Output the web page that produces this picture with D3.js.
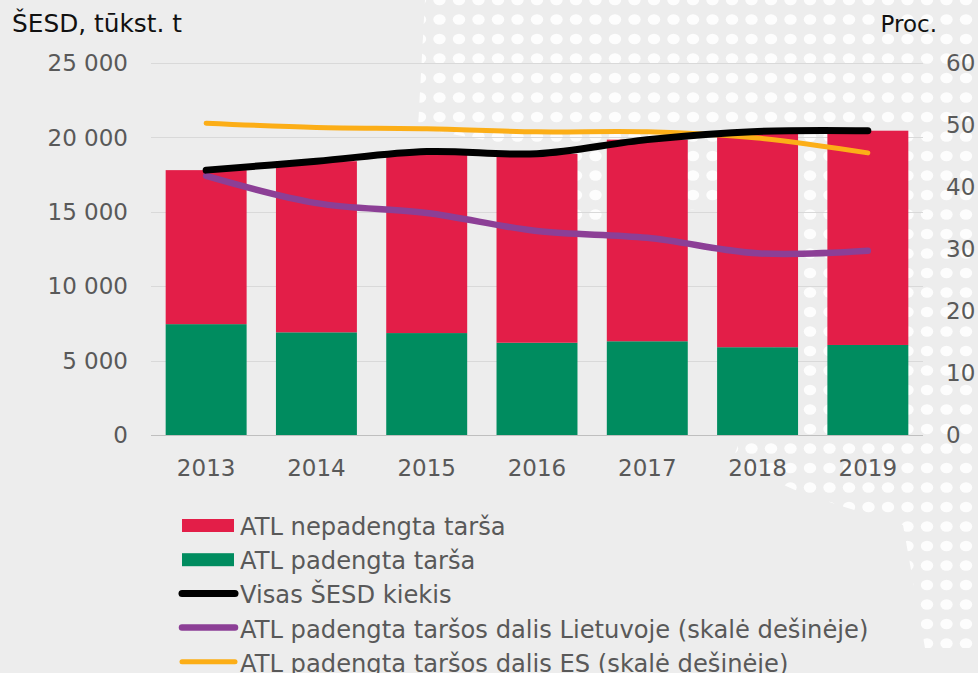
<!DOCTYPE html>
<html lang="lt">
<head>
<meta charset="utf-8">
<title>ŠESD</title>
<style>
  body { margin: 0; background: #ededed; }
  svg { display: block; font-family: "DejaVu Sans", Verdana, sans-serif; }
  .tick-label { fill: #595959; font-size: 23px; }
  .legend-label { fill: #595959; font-size: 24.2px; }
  .unit { fill: #111; font-size: 23px; }
</style>
</head>
<body>
<svg id="chart"></svg>
<script src="https://d3js.org/d3.v7.min.js"></script>
<script>
// data
var years = ["2013", "2014", "2015", "2016", "2017", "2018", "2019"];
var coveredEmissions = [7450, 6900, 6850, 6200, 6300, 5900, 6050];       // ATL padengta tarša
var totalEmissions = [17800, 18400, 19050, 18900, 19850, 20400, 20450];  // Visas ŠESD kiekis
var uncoveredEmissions = totalEmissions.map((t, i) => t - coveredEmissions[i]);
var shareLithuania = [41.8, 37.4, 35.8, 32.9, 31.8, 29.3, 29.7];
var shareEU = [50.3, 49.6, 49.4, 48.9, 48.9, 47.9, 45.5];
var leftTicks = [0, 5000, 10000, 15000, 20000, 25000];
var rightTicks = [0, 10, 20, 30, 40, 50, 60];
var legendLabels = [
  "ATL nepadengta tarša",
  "ATL padengta tarša",
  "Visas ŠESD kiekis",
  "ATL padengta taršos dalis Lietuvoje (skalė dešinėje)",
  "ATL padengta taršos dalis ES (skalė dešinėje)"
];

var width = 978, height = 673;
var plotL = 151, plotR = 923, plotT = 63, plotB = 435;
var red = "#e31e48", green = "#008c5f", purple = "#8c3f96", orange = "#fcae17";

var svg = d3.select("#chart").attr("width", width).attr("height", height);

// decorative dotted backdrop (top right corner)
var dotArea = [[425,0],[978,0],[978,648],[925,648],[903,525],[838,505],[795,490],[732,462],[790,300],[720,205],[580,228],[540,150],[418,128]];
svg.append("clipPath").attr("id", "dotclip")
  .append("polygon").attr("points", dotArea.map(p => p.join(",")).join(" "));
var dots = [];
for (var yy = 0; yy < 660; yy += 19.5) {
  for (var xx = 420; xx < 990; xx += 19.5) dots.push([xx, yy]);
}
svg.append("g").attr("clip-path", "url(#dotclip)")
  .selectAll("ellipse").data(dots).join("ellipse")
  .attr("cx", d => d[0]).attr("cy", d => d[1])
  .attr("rx", 6.2).attr("ry", 5.2)
  .attr("fill", "#fdfdfd");

var x = d3.scaleBand().domain(years).range([plotL, plotR]).paddingInner(0.266).paddingOuter(0.133);
var y = d3.scaleLinear().domain([0, 25000]).range([plotB, plotT]);
var y2 = d3.scaleLinear().domain([0, 60]).range([plotB, plotT]);

// gridlines
svg.append("g").selectAll("line").data(leftTicks).join("line")
  .attr("x1", plotL).attr("x2", plotR)
  .attr("y1", d => Math.round(y(d)) + 0.5).attr("y2", d => Math.round(y(d)) + 0.5)
  .attr("stroke", d => d === 0 ? "#bfbfbf" : "#d9d9d9").attr("stroke-width", 1);

// left axis labels
svg.append("g").selectAll("text").data(leftTicks).join("text")
  .attr("class", "tick-label")
  .attr("x", 128).attr("y", d => y(d)).attr("dy", "0.36em")
  .attr("text-anchor", "end")
  .text(d => d3.format(",")(d).replace(/,/g, " "));

// right axis labels
svg.append("g").selectAll("text").data(rightTicks).join("text")
  .attr("class", "tick-label")
  .attr("x", 946).attr("y", d => y2(d)).attr("dy", "0.36em")
  .text(d => d);

// x labels
svg.append("g").selectAll("text").data(years).join("text")
  .attr("class", "tick-label")
  .attr("x", d => x(d) + x.bandwidth() / 2).attr("y", 476)
  .attr("text-anchor", "middle")
  .text(d => d);

svg.append("text").attr("class", "unit").attr("x", 12).attr("y", 32).style("font-size", "24.8px").text("ŠESD, tūkst. t");
svg.append("text").attr("class", "unit").attr("x", 937).attr("y", 32).attr("text-anchor", "end").text("Proc.");

// stacked bars
var stackRows = years.map((yr, i) => ({ year: yr, covered: coveredEmissions[i], uncovered: uncoveredEmissions[i] }));
var series = d3.stack().keys(["covered", "uncovered"])(stackRows);
var barColors = { covered: green, uncovered: red };
svg.append("g").selectAll("g").data(series).join("g")
  .attr("fill", d => barColors[d.key])
  .selectAll("rect").data(d => d).join("rect")
  .attr("x", d => x(d.data.year))
  .attr("width", x.bandwidth())
  .attr("y", d => y(d[1]))
  .attr("height", d => y(d[0]) - y(d[1]));

// lines
var cx = yr => x(yr) + x.bandwidth() / 2;
function drawLine(values, scale, color, w) {
  svg.append("path")
    .datum(values)
    .attr("fill", "none")
    .attr("stroke", color)
    .attr("stroke-width", w)
    .attr("stroke-linecap", "round")
    .attr("stroke-linejoin", "round")
    .attr("d", d3.line().x((d, i) => cx(years[i])).y(d => scale(d)).curve(d3.curveCatmullRom.alpha(0.5)));
}
drawLine(shareLithuania, y2, purple, 6.5);
drawLine(shareEU, y2, orange, 5);
drawLine(totalEmissions, y, "#000", 7);

// legend
var legendKinds = [
  { type: "rect", color: red },
  { type: "rect", color: green },
  { type: "line", color: "#000", w: 7 },
  { type: "line", color: purple, w: 6.5 },
  { type: "line", color: orange, w: 5 }
];
var lg = svg.append("g");
legendLabels.forEach((label, i) => {
  var base = 535 + i * 34.2;
  var k = legendKinds[i];
  if (k.type === "rect") {
    lg.append("rect").attr("x", 182).attr("y", base - 16).attr("width", 52).attr("height", 13).attr("fill", k.color);
  } else {
    lg.append("line").attr("x1", 182).attr("x2", 235).attr("y1", base - 10).attr("y2", base - 10)
      .attr("stroke", k.color).attr("stroke-width", k.w).attr("stroke-linecap", "round");
  }
  lg.append("text").attr("class", "legend-label").attr("x", 240).attr("y", base).text(label);
});
</script>
</body>
</html>
